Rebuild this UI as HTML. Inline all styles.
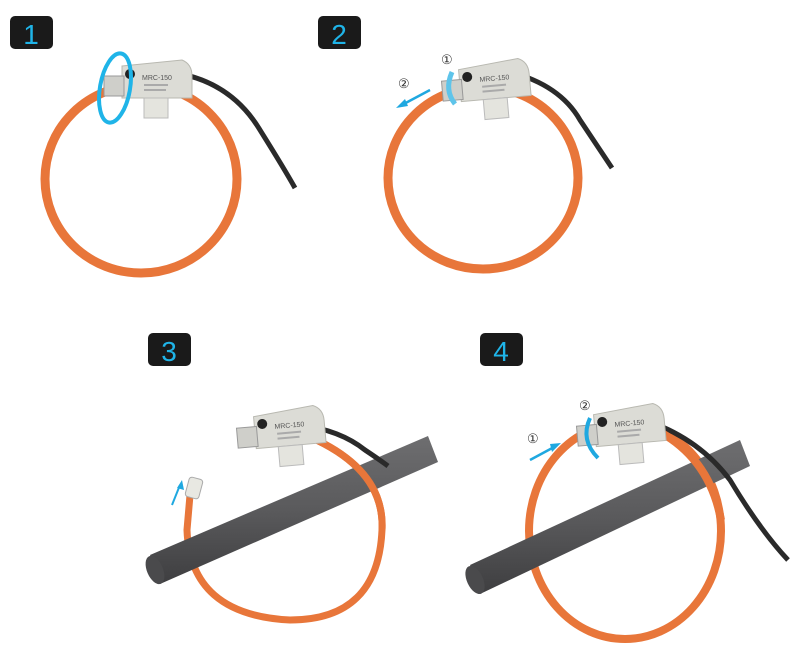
<!DOCTYPE html>
<html><head><style>
html,body{margin:0;padding:0;background:#fff;width:800px;height:648px;overflow:hidden}
</style></head><body>
<svg width="800" height="648" viewBox="0 0 800 648" xmlns="http://www.w3.org/2000/svg" font-family="Liberation Sans, sans-serif">
<defs>
<linearGradient id="pipe" x1="0" y1="0" x2="0" y2="1"><stop offset="0" stop-color="#6e6e70"/><stop offset="0.5" stop-color="#5a5a5c"/><stop offset="1" stop-color="#3e3e40"/></linearGradient>
<g id="head">
<path d="M-30,-18 L30,-24 Q40,-20 40,-8 L40,14 L-30,14 Z" fill="#dcdcd6" stroke="#b8b8b0"/>
<rect x="-8" y="14" width="24" height="20" fill="#e4e4de" stroke="#bbb"/>
<rect x="-48" y="-8" width="20" height="20" fill="#cfcfca" stroke="#999"/>
<circle cx="-22" cy="-10" r="5" fill="#222"/>
<text x="-10" y="-4" font-size="7" fill="#555">MRC-150</text>
<rect x="-8" y="0" width="24" height="2" fill="#aaa"/>
<rect x="-8" y="5" width="22" height="2" fill="#aaa"/>
</g>
</defs>
<g font-size="28" fill="#1fb4e8" text-anchor="middle">
<rect x="10" y="16" width="43" height="33" rx="5" fill="#1a1a1a"/><text x="31" y="44">1</text>
<rect x="318" y="16" width="43" height="33" rx="5" fill="#1a1a1a"/><text x="339" y="44">2</text>
<rect x="148" y="333" width="43" height="33" rx="5" fill="#1a1a1a"/><text x="169" y="361">3</text>
<rect x="480" y="333" width="43" height="33" rx="5" fill="#1a1a1a"/><text x="501" y="361">4</text>
</g>
<!-- panel 1 -->
<path d="M170,72 Q230,80 260,130 Q285,170 295,188" fill="none" stroke="#2a2a2a" stroke-width="5"/>
<ellipse cx="141" cy="179" rx="96" ry="94" fill="none" stroke="#e8763a" stroke-width="9"/>
<use href="#head" x="152" y="84"/>
<ellipse cx="115" cy="88" rx="15" ry="35" fill="none" stroke="#1fb4e8" stroke-width="4" transform="rotate(10 115 88)"/>
<!-- panel 2 -->
<path d="M510,72 Q560,85 580,120 Q600,150 612,168" fill="none" stroke="#2a2a2a" stroke-width="5"/>
<ellipse cx="483" cy="178" rx="95" ry="91" fill="none" stroke="#e8763a" stroke-width="9"/>
<use href="#head" x="490" y="85" transform="rotate(-5 490 85)"/>
<path d="M452,72 Q444,90 455,104" fill="none" stroke="#5ec4ea" stroke-width="5"/>
<line x1="430" y1="90" x2="400" y2="106" stroke="#1fa8e0" stroke-width="2.5"/>
<path d="M396,108 L405,99 L408,106 Z" fill="#1fa8e0"/>
<text x="441" y="64" font-size="13" fill="#333">①</text>
<text x="398" y="88" font-size="13" fill="#333">②</text>
<!-- panel 3 -->
<path d="M310,437 Q385,470 382,530 Q378,620 290,620 Q190,615 187,530 L190,495" fill="none" stroke="#e8763a" stroke-width="7"/>
<rect x="187" y="478" width="14" height="20" rx="3" fill="#e8e8e2" stroke="#aaa" transform="rotate(15 194 488)"/>
<line x1="172" y1="505" x2="180" y2="485" stroke="#1fa8e0" stroke-width="2"/>
<path d="M182,480 L184,490 L177,488 Z" fill="#1fa8e0"/>
<path d="M150,555 L428,436 L438,462 L160,584 Z" fill="url(#pipe)"/>
<ellipse cx="155" cy="570" rx="8" ry="15" fill="#4a4a4c" transform="rotate(-23 155 570)"/>
<path d="M300,425 Q340,430 365,450 Q380,460 388,466" fill="none" stroke="#2a2a2a" stroke-width="5"/>
<path d="M310,437 Q385,470 382,530" fill="none" stroke="#e8763a" stroke-width="7"/>
<use href="#head" x="285" y="432" transform="rotate(-5 285 432)"/>
<!-- panel 4 -->
<ellipse cx="625" cy="531" rx="96" ry="108" fill="none" stroke="#e8763a" stroke-width="8"/>
<path d="M470,565 L740,440 L750,466 L480,594 Z" fill="url(#pipe)"/>
<ellipse cx="475" cy="580" rx="8" ry="15" fill="#4a4a4c" transform="rotate(-25 475 580)"/>
<path d="M650,422 Q700,440 730,480 Q760,530 788,560" fill="none" stroke="#2a2a2a" stroke-width="5"/>
<path d="M660,432 Q710,460 721,520" fill="none" stroke="#e8763a" stroke-width="8"/>
<use href="#head" x="625" y="430" transform="rotate(-5 625 430)"/>
<path d="M590,418 Q580,440 598,458" fill="none" stroke="#1fa8e0" stroke-width="4"/>
<line x1="530" y1="460" x2="556" y2="446" stroke="#1fa8e0" stroke-width="2.5"/>
<path d="M561,443 L552,452 L550,444 Z" fill="#1fa8e0"/>
<text x="527" y="443" font-size="13" fill="#333">①</text>
<text x="579" y="410" font-size="13" fill="#333">②</text>
</svg>
</body></html>
